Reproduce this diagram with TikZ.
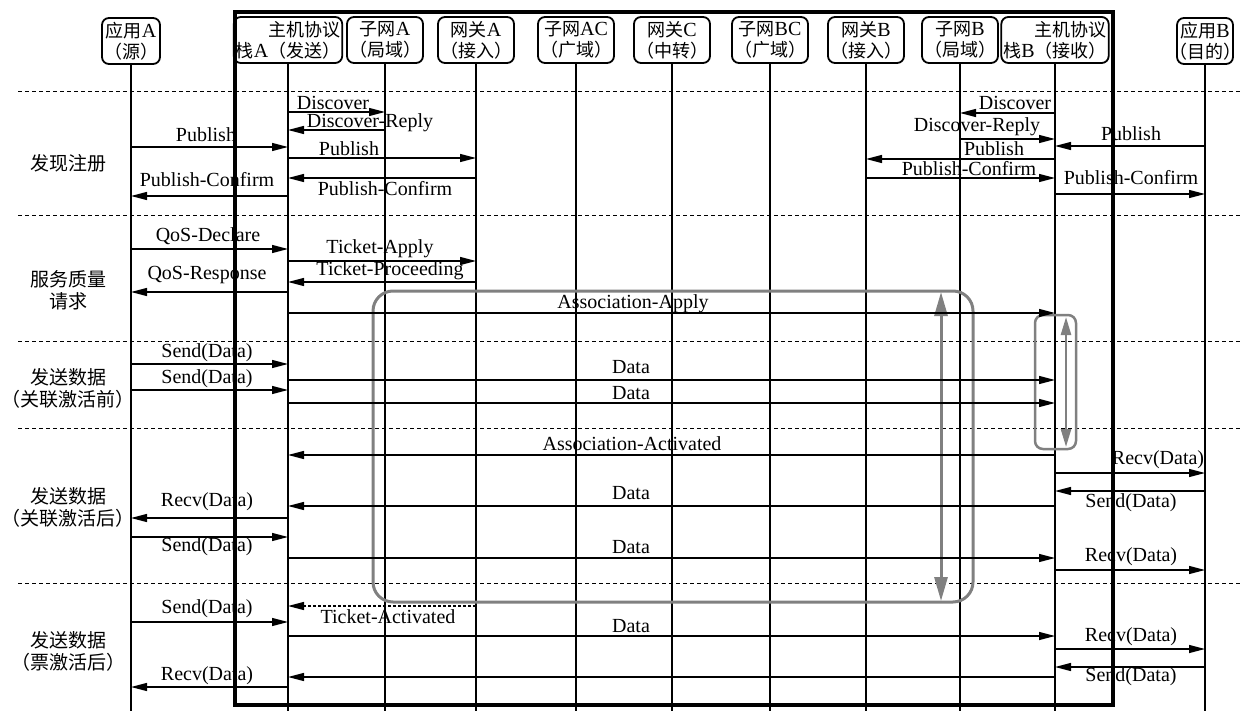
\documentclass[tikz,border=0pt]{standalone}
\usepackage{fontspec}
\setmainfont{Liberation Serif}
\newfontfamily\cjk{Noto Sans CJK SC}[Scale=0.9]
\newfontfamily\cjkhalf{Noto Sans CJK SC}[Scale=0.9,RawFeature=+halt]
\newfontfamily\cjkL{Noto Sans CJK SC}[Scale=0.95]
\usetikzlibrary{arrows.meta}
\newcommand\zh[1]{{\cjk #1}}
\newcommand\zhh[1]{{\cjkhalf #1}}
\newcommand\zhL[1]{{\cjkL #1}}

\begin{document}
\begin{tikzpicture}[x=1pt, y=-1pt,
  font=\fontsize{20}{22}\selectfont,
  hdr/.style={draw, line width=1.8pt, rounded corners=7pt, align=center,
    inner xsep=2pt, inner ysep=1pt, minimum height=46pt,
    font=\fontsize{20}{21}\selectfont},
  life/.style={line width=1.1pt},
  sep/.style={dash pattern=on 4pt off 3pt, line width=1pt},
  msg/.style={line width=1.3pt, -{Triangle[length=16pt,width=8pt]}},
  dmsg/.style={msg, dash pattern=on 3pt off 2pt},
  lbl/.style={inner sep=0pt},
  phase/.style={align=center, inner sep=0pt, font=\fontsize{20}{22}\selectfont},
  grp/.style={draw=gray, line width=3pt, rounded corners=20pt},
  span/.style={gray, line width=3pt,
    {Triangle[length=24pt,width=13pt]}-{Triangle[length=24pt,width=13pt]}},
  sspan/.style={gray, line width=2.5pt,
    {Triangle[length=18pt,width=10pt]}-{Triangle[length=18pt,width=10pt]}}]

\useasboundingbox (0,0) rectangle (1241,711);

% participants
\node[hdr] (appA) at (131,41) {\zh{应用}A\\\zh{（源）}};
\node[hdr, align=right] (hostA) at (288,40) {\zh{主机协议}\\\zh{栈}A\zh{（发送）}};
\node[hdr] (netA) at (385,40) {\zh{子网}A\\\zh{（局域）}};
\node[hdr] (gwA) at (476,40) {\zh{网关}A\\\zh{（接入）}};
\node[hdr] (netAC) at (576,40) {\zh{子网}AC\\\zh{（广域）}};
\node[hdr] (gwC) at (672,40) {\zh{网关}C\\\zh{（中转）}};
\node[hdr] (netBC) at (770,40) {\zh{子网}BC\\\zh{（广域）}};
\node[hdr] (gwB) at (866,40) {\zh{网关}B\\\zh{（接入）}};
\node[hdr] (netB) at (960,40) {\zh{子网}B\\\zh{（局域）}};
\node[hdr, align=right] (hostB) at (1055,40) {\zh{主机协议}\\\zh{栈}B\zh{（接收）}};
\node[hdr, inner xsep=1pt] (appB) at (1205,41) {\zh{应用}B\\\zhh{（目的）}};

% lifelines
\foreach \p in {appA,hostA,netA,gwA,netAC,gwC,netBC,gwB,netB,hostB,appB}
  \draw[life] (\p.south) -- (\p.south |- 0,711);

% phase separators
\foreach \yy in {92,216,341,428,583}
  \draw[sep] (18,\yy) -- (1241,\yy);

% host protocol stack frame
\draw[line width=3.5pt] (235,12) rectangle (1113,705);

% association spans
\draw[grp] (373,291) rectangle (973,602);
\draw[grp, rounded corners=8pt, line width=2.5pt] (1035,315) rectangle (1076,449);
\coordinate (aTop) at (941,292);
\coordinate (aBot) at (941,601);
\draw[span] (aTop) -- (aBot);
\coordinate (bTop) at (1066,317);
\coordinate (bBot) at (1066,447);
\draw[sspan] (bTop) -- (bBot);

% phase names
\node[phase] (ph1) at (68,163) {\zhL{发现注册}};
\node[phase] (ph2) at (68,290) {\zhL{服务质量}\\\zhL{请求}};
\node[phase] (ph3) at (68,388) {\zhL{发送数据}\\\zhL{（关联激活前）}};
\node[phase] (ph4) at (68,507) {\zhL{发送数据}\\\zhL{（关联激活后）}};
\node[phase] (ph5) at (68,651) {\zhL{发送数据}\\\zhL{（票激活后）}};

% discovery and registration
\draw[msg] (hostA |- 0,112) -- (netA |- 0,112);
\node[lbl] (m1) at (333,103) {Discover};
\draw[msg] (netA |- 0,130) -- (hostA |- 0,130);
\node[lbl] (m2) at (370,123) {Discover-Reply};
\draw[msg] (appA |- 0,147) -- (hostA |- 0,147);
\node[lbl] (m3) at (206,135) {Publish};
\draw[msg] (hostA |- 0,158) -- (gwA |- 0,158);
\node[lbl] (m4) at (349,149) {Publish};
\draw[msg] (gwA |- 0,178) -- (hostA |- 0,178);
\node[lbl] (m5) at (385,189) {Publish-Confirm};
\draw[msg] (hostA |- 0,196) -- (appA |- 0,196);
\node[lbl] (m6) at (207,180) {Publish-Confirm};

\draw[msg] (hostB |- 0,113) -- (netB |- 0,113);
\node[lbl] (m7) at (1015,103) {Discover};
\draw[msg] (netB |- 0,139) -- (hostB |- 0,139);
\node[lbl] (m8) at (977,127) {Discover-Reply};
\draw[msg] (appB |- 0,146) -- (hostB |- 0,146);
\node[lbl] (m9) at (1131,134) {Publish};
\draw[msg] (hostB |- 0,159) -- (gwB |- 0,159);
\node[lbl] (m10) at (994,149) {Publish};
\draw[msg] (gwB |- 0,178) -- (hostB |- 0,178);
\node[lbl] (m11) at (969,169) {Publish-Confirm};
\draw[msg] (hostB |- 0,194) -- (appB |- 0,194);
\node[lbl] (m12) at (1131,178) {Publish-Confirm};

% quality of service request
\draw[msg] (appA |- 0,249) -- (hostA |- 0,249);
\node[lbl] (m13) at (208,236) {QoS-Declare};
\draw[msg] (hostA |- 0,261) -- (gwA |- 0,261);
\node[lbl] (m14) at (380,249) {Ticket-Apply};
\draw[msg] (gwA |- 0,282) -- (hostA |- 0,282);
\node[lbl] (m15) at (390,271) {Ticket-Proceeding};
\draw[msg] (hostA |- 0,292) -- (appA |- 0,292);
\node[lbl] (m16) at (207,275) {QoS-Response};
\draw[msg] (hostA |- 0,313) -- (hostB |- 0,313);
\node[lbl] (m17) at (633,304) {Association-Apply};

% data before association activation
\draw[msg] (appA |- 0,364) -- (hostA |- 0,364);
\node[lbl] (m18) at (207,353) {Send(Data)};
\draw[msg] (hostA |- 0,380) -- (hostB |- 0,380);
\node[lbl] (m19) at (631,367) {Data};
\draw[msg] (appA |- 0,390) -- (hostA |- 0,390);
\node[lbl] (m20) at (207,379) {Send(Data)};
\draw[msg] (hostA |- 0,403) -- (hostB |- 0,403);
\node[lbl] (m21) at (631,393) {Data};

% data after association activation
\draw[msg] (hostB |- 0,455) -- (hostA |- 0,455);
\node[lbl] (m22) at (632,444) {Association-Activated};
\draw[msg] (hostB |- 0,473) -- (appB |- 0,473);
\node[lbl] (m23) at (1158,460) {Recv(Data)};
\draw[msg] (appB |- 0,491) -- (hostB |- 0,491);
\node[lbl] (m24) at (1131,503) {Send(Data)};
\draw[msg] (hostB |- 0,506) -- (hostA |- 0,506);
\node[lbl] (m25) at (631,493) {Data};
\draw[msg] (hostA |- 0,518) -- (appA |- 0,518);
\node[lbl] (m26) at (207,502) {Recv(Data)};
\draw[msg] (appA |- 0,537) -- (hostA |- 0,537);
\node[lbl] (m27) at (207,547) {Send(Data)};
\draw[msg] (hostA |- 0,558) -- (hostB |- 0,558);
\node[lbl] (m28) at (631,547) {Data};
\draw[msg] (hostB |- 0,570) -- (appB |- 0,570);
\node[lbl] (m29) at (1131,557) {Recv(Data)};

% data after ticket activation
\draw[dmsg] (gwA |- 0,606) -- (hostA |- 0,606);
\node[lbl] (m30) at (388,617) {Ticket-Activated};
\draw[msg] (appA |- 0,622) -- (hostA |- 0,622);
\node[lbl] (m31) at (207,609) {Send(Data)};
\draw[msg] (hostA |- 0,636) -- (hostB |- 0,636);
\node[lbl] (m32) at (631,626) {Data};
\draw[msg] (hostB |- 0,649) -- (appB |- 0,649);
\node[lbl] (m33) at (1131,637) {Recv(Data)};
\draw[msg] (appB |- 0,667) -- (hostB |- 0,667);
\node[lbl] (m34) at (1131,677) {Send(Data)};
\draw[msg] (hostB |- 0,677) -- (hostA |- 0,677);
\draw[msg] (hostA |- 0,687) -- (appA |- 0,687);
\node[lbl] (m36) at (207,676) {Recv(Data)};

\end{tikzpicture}
\end{document}
